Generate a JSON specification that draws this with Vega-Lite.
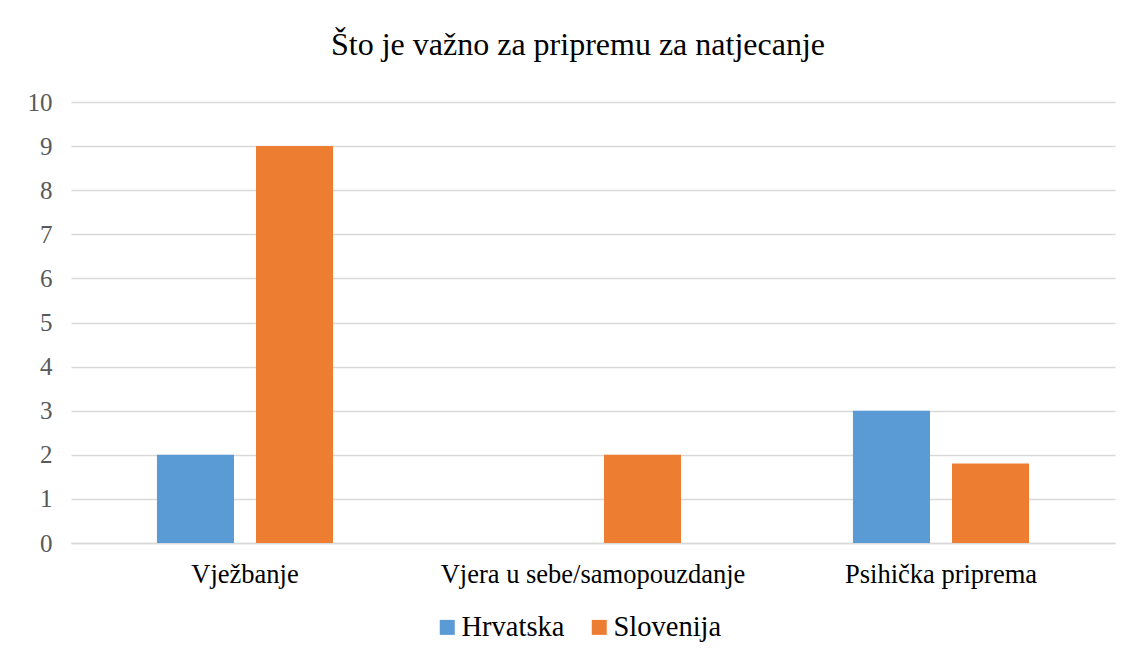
{
  "$schema": "https://vega.github.io/schema/vega-lite/v6.json",
  "width": 1044,
  "height": 441,
  "autosize": {"type": "none"},
  "padding": {"left": 71, "top": 102, "right": 18, "bottom": 121},
  "background": "white",
  "title": {
    "text": "Što je važno za pripremu za natjecanje",
    "fontSize": 32,
    "fontWeight": "normal",
    "color": "#000000",
    "anchor": "middle",
    "dx": -15,
    "offset": 28
  },
  "data": {
    "values": [
      {"kategorija": "Vježbanje", "zemlja": "Hrvatska", "vrijednost": 2},
      {"kategorija": "Vježbanje", "zemlja": "Slovenija", "vrijednost": 9},
      {"kategorija": "Vjera u sebe/samopouzdanje", "zemlja": "Slovenija", "vrijednost": 2},
      {"kategorija": "Psihička priprema", "zemlja": "Hrvatska", "vrijednost": 3},
      {"kategorija": "Psihička priprema", "zemlja": "Slovenija", "vrijednost": 1.8}
    ]
  },
  "mark": {"type": "bar"},
  "encoding": {
    "x": {
      "field": "kategorija",
      "type": "nominal",
      "sort": ["Vježbanje", "Vjera u sebe/samopouzdanje", "Psihička priprema"],
      "scale": {"paddingInner": 0.494, "paddingOuter": 0.247},
      "axis": {
        "title": null,
        "labelAngle": 0,
        "labelLimit": 0,
        "ticks": false,
        "domain": true,
        "domainColor": "#d9d9d9",
        "domainWidth": 1.5,
        "labelFontSize": 26.5,
        "labelColor": "#000000",
        "labelPadding": 18
      }
    },
    "xOffset": {
      "field": "zemlja",
      "type": "nominal",
      "scale": {"domain": ["Hrvatska", "Slovenija"], "paddingInner": 0.222, "paddingOuter": 0}
    },
    "y": {
      "field": "vrijednost",
      "type": "quantitative",
      "scale": {"domain": [0, 10], "nice": false},
      "axis": {
        "title": null,
        "values": [0, 1, 2, 3, 4, 5, 6, 7, 8, 9, 10],
        "domain": false,
        "ticks": false,
        "grid": true,
        "gridColor": "#d9d9d9",
        "gridWidth": 1.5,
        "labelFontSize": 25,
        "labelColor": "#595959",
        "labelPadding": 19
      }
    },
    "color": {
      "field": "zemlja",
      "type": "nominal",
      "scale": {"domain": ["Hrvatska", "Slovenija"], "range": ["#5b9bd5", "#ed7d31"]},
      "legend": {
        "title": null,
        "orient": "none",
        "direction": "horizontal",
        "legendX": 362,
        "legendY": 511,
        "symbolType": "square",
        "symbolSize": 225,
        "symbolStrokeWidth": 0,
        "labelFontSize": 28.5,
        "labelColor": "#000000",
        "labelOffset": 0,
        "columnPadding": 20
      }
    }
  },
  "config": {
    "font": "Liberation Serif",
    "axis": {"labelFont": "Liberation Serif"},
    "legend": {"labelFont": "Liberation Serif"},
    "title": {"font": "Liberation Serif"},
    "view": {"stroke": null}
  }
}
